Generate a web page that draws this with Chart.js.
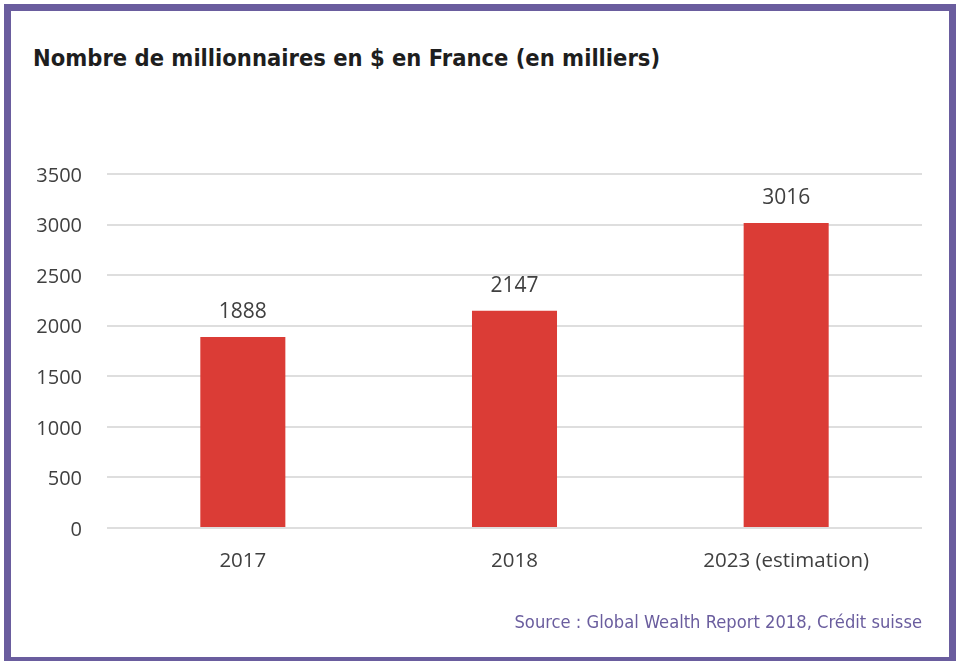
<!DOCTYPE html>
<html>
<head>
<meta charset="utf-8">
<script src="https://cdn.jsdelivr.net/npm/chart.js@4.4.0/dist/chart.umd.min.js"></script>
<style>
    html, body { margin: 0; padding: 0; background: #fff; }
    body { width: 956px; height: 661px; position: relative; overflow: hidden; }
    .frame {
        position: absolute; left: 4px; top: 4px;
        width: 938px; height: 646px;
        border: 7px solid #6a5d9e;
    }
    .title {
        position: absolute; left: 33px; top: 44px;
        font-family: "DejaVu Sans Condensed", "DejaVu Sans", sans-serif;
        font-weight: bold; font-size: 23.5px; color: #1e1e1e;
        white-space: nowrap;
    }
    .source {
        position: absolute; right: 34px; top: 611px;
        font-family: "DejaVu Sans Condensed", "DejaVu Sans", sans-serif;
        font-size: 18.2px; color: #6a5d9e;
        white-space: nowrap;
    }
    #wrap { position: absolute; left: 0; top: 0; width: 956px; height: 661px; }
</style>
</head>
<body>
<div class="frame"></div>
<div class="title">Nombre de millionnaires en $ en France (en milliers)</div>
<div id="wrap"><canvas id="chart"></canvas></div>
<div class="source">Source : Global Wealth Report 2018, Crédit suisse</div>
<script>
const categories = ['2017', '2018', '2023 (estimation)'];
const millionnaires = [1888, 2147, 3016];
const yTicks = [0, 500, 1000, 1500, 2000, 2500, 3000, 3500];

// étiquettes de valeur au-dessus des barres
const valueLabels = {
    id: 'valueLabels',
    afterDatasetsDraw(chart) {
        const ctx = chart.ctx;
        const meta = chart.getDatasetMeta(0);
        ctx.save();
        ctx.font = '21px "Open Sans", sans-serif';
        ctx.fillStyle = '#404040';
        ctx.textAlign = 'center';
        ctx.textBaseline = 'middle';
        meta.data.forEach((bar, i) => {
            ctx.fillText(millionnaires[i], bar.x, bar.y - 25);
        });
        ctx.restore();
    }
};

document.addEventListener('DOMContentLoaded', function() {
    const ctx = document.getElementById('chart').getContext('2d');
    new Chart(ctx, {
        type: 'bar',
        data: {
            labels: categories,
            datasets: [{
                data: millionnaires,
                backgroundColor: '#db3c36',
                borderWidth: 0,
                barPercentage: 0.313,
                categoryPercentage: 1
            }]
        },
        options: {
            responsive: true,
            maintainAspectRatio: false,
            animation: false,
            layout: { padding: { left: 20, top: 174, right: 34, bottom: 73 } },
            plugins: { legend: { display: false }, tooltip: { enabled: false } },
            scales: {
                x: {
                    grid: { display: false, drawTicks: false },
                    border: { display: false },
                    ticks: { color: '#404040', font: { family: 'Open Sans', size: 20.5 }, padding: 21 },
                    afterFit(scale) { scale.height = 60; }
                },
                y: {
                    min: 0, max: 3500,
                    afterBuildTicks(scale) { scale.ticks = yTicks.map(v => ({ value: v })); },
                    grid: { color: '#dedede', lineWidth: 2, drawTicks: false },
                    border: { display: false },
                    ticks: {
                        color: '#404040', font: { family: 'Open Sans', size: 20 }, padding: 25,
                        labelOffset: 2,
                        callback: v => String(v)
                    },
                    afterFit(scale) { scale.width = 87; }
                }
            }
        },
        plugins: [valueLabels]
    });
});
</script>
</body>
</html>
